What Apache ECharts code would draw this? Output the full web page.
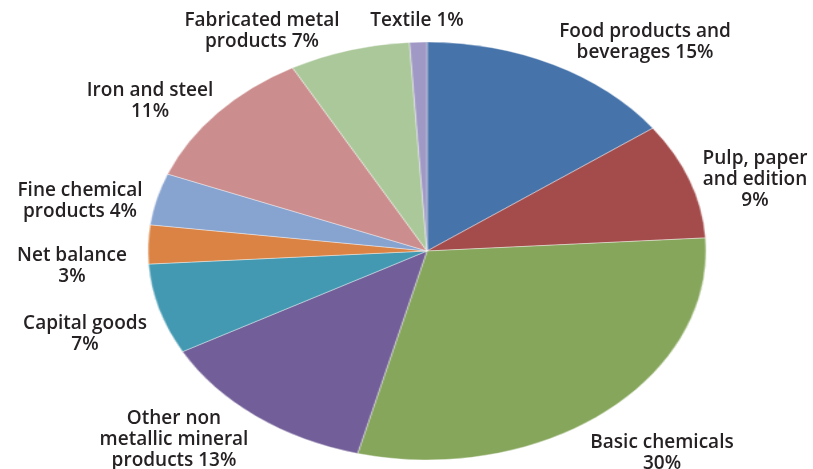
<!DOCTYPE html>
<html>
<head>
<meta charset="utf-8">
<script src="https://cdn.jsdelivr.net/npm/echarts@6/dist/echarts.min.js"></script>
<style>
  html, body { margin: 0; padding: 0; background: #ffffff; }
  #stage { position: relative; width: 813px; height: 469px; overflow: hidden; }
  /* the pie is drawn round and stretched horizontally into an ellipse */
  #pie { position: absolute; left: 217px; top: 41px; width: 420px; height: 420px;
         transform: scaleX(1.335); transform-origin: 50% 50%; }
  #labels { position: absolute; left: 0; top: 0; width: 813px; height: 469px; }
</style>
</head>
<body>
<div id="stage">
  <div id="pie"></div>
  <div id="labels"></div>
</div>
<script>
// Share of energy consumption by industrial sector (%)
const sectors = [
  'Food products and beverages',
  'Pulp, paper and edition',
  'Basic chemicals',
  'Other non metallic mineral products',
  'Capital goods',
  'Net balance',
  'Fine chemical products',
  'Iron and steel',
  'Fabricated metal products',
  'Textile'
];
const shares = [15, 9, 30, 13, 7, 3, 4, 11, 7, 1];

// label text broken into lines (the last line carries the value)
const labelLines = [
  ['Food products and', 'beverages'],
  ['Pulp, paper', 'and edition', ''],
  ['Basic chemicals', ''],
  ['Other non', 'metallic mineral', 'products'],
  ['Capital goods', ''],
  ['Net balance', ''],
  ['Fine chemical', 'products'],
  ['Iron and steel', ''],
  ['Fabricated metal', 'products'],
  ['Textile']
];

const sliceColors = ['#4573AA', '#A44B4B', '#86A65C', '#725E98', '#4299B1',
                     '#DA8344', '#87A3D0', '#CB8D8D', '#AAC89A', '#A199C5'];

// label anchors: centre x, top y of the text block
const labelAnchors = [
  [645, 20], [755, 147], [662, 431], [174, 407], [85, 312],
  [72, 244], [80, 179], [150, 79], [262, 9], [417, 9]
];

const pieChart = echarts.init(document.getElementById('pie'), null, { renderer: 'canvas' });
pieChart.setOption({
  animation: false,
  series: [{
    type: 'pie',
    center: ['50%', '50%'],
    radius: 209,
    startAngle: 90,
    clockwise: true,
    label: { show: false },
    labelLine: { show: false },
    itemStyle: { borderColor: 'rgba(255,255,255,0.55)', borderWidth: 0.7 },
    data: sectors.map((name, i) => ({
      name: name,
      value: shares[i],
      itemStyle: { color: sliceColors[i] }
    }))
  }]
});

const labelChart = echarts.init(document.getElementById('labels'), null, { renderer: 'canvas' });
labelChart.setOption({
  animation: false,
  graphic: labelLines.map((lines, i) => {
    const parts = lines.slice();
    const last = parts.length - 1;
    parts[last] = (parts[last] ? parts[last] + ' ' : '') + shares[i] + '%';
    return {
      type: 'text',
      x: labelAnchors[i][0],
      y: labelAnchors[i][1] + 1,
      style: {
        text: parts.join('\n'),
        fontFamily: 'Open Sans',
        fontWeight: 600,
        fontSize: 19,
        lineHeight: 21,
        fill: '#262223',
        align: 'center',
        verticalAlign: 'top'
      }
    };
  })
});
</script>
</body>
</html>
